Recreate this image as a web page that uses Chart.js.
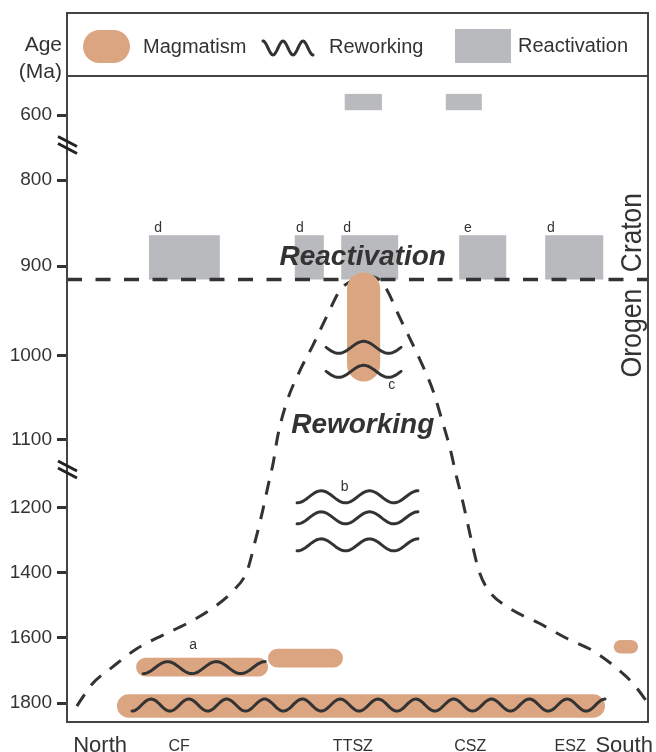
<!DOCTYPE html>
<html>
<head>
<meta charset="utf-8">
<script src="https://cdn.jsdelivr.net/npm/chart.js@4.4.1/dist/chart.umd.min.js"></script>
<style>
  html, body { margin: 0; background: #fff; }
  #wrap { width: 656px; height: 752px; }
</style>
</head>
<body>
<div id="wrap"><canvas id="c"></canvas></div>
<script>
/* ---------- Daten ---------- */

// y-Achse: gebrochene Altersachse (Ma)
const tickMa = [600, 800, 900, 1000, 1100, 1200, 1400, 1600, 1800];
const tickGap = [1, 1.32, 1.37, 1.29, 1.05, 1, 1, 1]; // relative Abstände zwischen den Ticks
const breakMa = [692, 1144];

// x-Achse: Profil Nord–Süd (0–100)
const siteNames = ["North", "CF", "TTSZ", "CSZ", "ESZ", "South"];
const sitePos = [5.7, 19.3, 49.2, 69.4, 86.6, 95.9];

// Reaktivierung (graue Felder)
const reactX1 = [47.8, 65.2, 14.1, 39.2, 47.2, 67.5, 82.3];
const reactX2 = [54.2, 71.4, 26.3, 44.2, 57.0, 75.6, 92.3];
const reactYoung = [535, 535, 864, 864, 864, 864, 864];
const reactOld = [585, 585, 915, 915, 915, 915, 915];

// Magmatismus (orange Kapseln)
const magX1 = [48.2, 11.9, 34.6, 8.6, 94.1];
const magX2 = [53.9, 34.6, 47.5, 92.6, 98.3];
const magYoung = [907, 1661, 1633, 1773, 1606];
const magOld = [1031, 1718, 1691, 1845, 1648];

// Überprägung (Wellenlinien): c, c, b, b, b, a, lang
const workX1 = [44.6, 44.6, 39.6, 39.6, 39.6, 13.1, 11.2];
const workX2 = [57.5, 57.5, 60.4, 60.4, 60.4, 34.1, 92.6];
const workMa = [991, 1019, 1184, 1231, 1314, 1691, 1806];

// Grenze Orogen / Kraton und Hüllkurve der Überprägung
const boundaryMa = 915;
const curveX = [1.7, 4.3, 7.7, 12.0, 16.5, 20.8, 25.1, 28.6, 31.0, 32.4, 33.6, 34.6, 35.5, 36.3,
  37.9, 40.1, 42.3, 44.8, 47.0, 49.1, 51.3, 53.9, 55.1, 57.3, 60.8, 63.0, 64.7, 65.9, 67.0,
  68.2, 69.5, 70.9, 72.6, 76.1, 81.2, 85.9, 90.5, 94.5, 97.4, 100];
const curveMa = [1809, 1742, 1691, 1633, 1591, 1554, 1508, 1455, 1394, 1302, 1215, 1168, 1134, 1095,
  1054, 1018, 989, 955, 927, 916, 911, 916, 927, 958, 1006, 1042, 1081, 1112, 1153,
  1194, 1292, 1394, 1455, 1508, 1554, 1600, 1639, 1691, 1739, 1800];

// Beschriftungen
const noteText = ["a", "b", "c", "d", "d", "d", "e", "d"];
const noteX = [21.7, 47.8, 55.9, 15.7, 40.1, 48.2, 69.0, 83.3];
const noteMa = [1633, 1175, 1040, 860, 860, 860, 860, 860];
const stageText = ["Reactivation", "Reworking"];
const stageX = [50.9, 50.9];
const stageMa = [899, 1093];
const zoneText = ["Orogen", "Craton"];
const zoneMa = [975, 861];

/* ---------- Stil ---------- */

const INK = "#333333", FRAME = "#444444", ORANGE = "#dca582", GREY = "#b9babe";
const FONT = '"Liberation Sans", Arial, sans-serif';
Chart.defaults.font.family = FONT;
Chart.defaults.color = INK;

const waveCycles = [1.5, 1.5, 2.5, 2.5, 2.5, 2.5, 12.5];
const wavePhase = [-0.25, -0.25, 0, 0, 0, 0, 0];
const zoneWidth = [89, 79];

/* ---------- gebrochene Altersskala ---------- */

const tickPos = tickGap.reduce((a, g) => (a.push(a[a.length - 1] + g), a), [0]);

function agePos(ma) {
  let i = 0;
  while (i < tickMa.length - 2 && ma > tickMa[i + 1]) i++;
  return tickPos[i] + (ma - tickMa[i]) / (tickMa[i + 1] - tickMa[i]) * tickGap[i];
}
function posAge(p) {
  let i = 0;
  while (i < tickPos.length - 2 && p > tickPos[i + 1]) i++;
  return tickMa[i] + (p - tickPos[i]) / tickGap[i] * (tickMa[i + 1] - tickMa[i]);
}

class AgeScale extends Chart.LinearScale {
  static id = "age";
  static defaults = {};
  getPixelForValue(v) {
    const a = agePos(this.min), b = agePos(this.max);
    return this.getPixelForDecimal((agePos(v) - a) / (b - a));
  }
  getValueForPixel(px) {
    const a = agePos(this.min), b = agePos(this.max);
    return posAge(a + this.getDecimalForPixel(px) * (b - a));
  }
}
Chart.register(AgeScale);

/* ---------- Zeichenhilfen ---------- */

function capsule(ctx, x, y, w, h) {
  const r = Math.min(w, h) / 2;
  ctx.beginPath();
  ctx.moveTo(x + r, y);
  ctx.arcTo(x + w, y, x + w, y + h, r);
  ctx.arcTo(x + w, y + h, x, y + h, r);
  ctx.arcTo(x, y + h, x, y, r);
  ctx.arcTo(x, y, x + w, y, r);
  ctx.closePath();
  ctx.fill();
}

function waveLine(ctx, x1, x2, cy, amp, cycles, phase) {
  const n = Math.max(30, Math.round(x2 - x1));
  ctx.beginPath();
  for (let i = 0; i <= n; i++) {
    const t = i / n;
    const y = cy + amp * Math.cos(2 * Math.PI * (phase + cycles * t));
    if (i) ctx.lineTo(x1 + t * (x2 - x1), y); else ctx.moveTo(x1, y);
  }
  ctx.stroke();
}

/* graue Felder unter den Linien */
const reactBoxes = {
  id: "reactBoxes",
  beforeDatasetsDraw(chart) {
    const { ctx, scales: { x, y } } = chart;
    ctx.save();
    ctx.fillStyle = GREY;
    reactX1.forEach((v, i) => {
      const l = x.getPixelForValue(v), r = x.getPixelForValue(reactX2[i]);
      const t = y.getPixelForValue(reactYoung[i]), b = y.getPixelForValue(reactOld[i]);
      ctx.fillRect(l, t, r - l, b - t);
    });
    ctx.restore();
  },
};

/* Kapseln, Wellen, Beschriftungen über den Linien */
const marks = {
  id: "marks",
  afterDatasetsDraw(chart) {
    const { ctx, chartArea, scales: { x, y } } = chart;
    ctx.save();
    ctx.fillStyle = ORANGE;
    magX1.forEach((v, i) => {
      const l = x.getPixelForValue(v), r = x.getPixelForValue(magX2[i]);
      const t = y.getPixelForValue(magYoung[i]), b = y.getPixelForValue(magOld[i]);
      capsule(ctx, l, t, r - l, b - t);
    });

    ctx.strokeStyle = INK;
    ctx.lineWidth = 3;
    ctx.lineCap = "round";
    workX1.forEach((v, i) => {
      waveLine(ctx, x.getPixelForValue(v), x.getPixelForValue(workX2[i]),
        y.getPixelForValue(workMa[i]), 6, waveCycles[i], wavePhase[i]);
    });

    ctx.fillStyle = INK;
    ctx.textAlign = "center";
    ctx.textBaseline = "alphabetic";
    ctx.font = `14px ${FONT}`;
    noteText.forEach((s, i) => ctx.fillText(s, x.getPixelForValue(noteX[i]), y.getPixelForValue(noteMa[i])));

    ctx.font = `italic bold 28px ${FONT}`;
    stageText.forEach((s, i) => ctx.fillText(s, x.getPixelForValue(stageX[i]), y.getPixelForValue(stageMa[i])));

    ctx.font = `30px ${FONT}`;
    zoneText.forEach((s, i) => {
      ctx.save();
      ctx.translate(chartArea.right - 7, y.getPixelForValue(zoneMa[i]));
      ctx.rotate(-Math.PI / 2);
      ctx.fillText(s, 0, 0, zoneWidth[i]);
      ctx.restore();
    });
    ctx.restore();
  },
};

/* Rahmen, Legendenzeile, Achsenbrüche */
const frame = {
  id: "frame",
  afterDraw(chart) {
    const { ctx, chartArea: { left, right, top, bottom }, scales: { y } } = chart;
    ctx.save();
    ctx.strokeStyle = FRAME;
    ctx.lineWidth = 2;
    ctx.strokeRect(left, top - 63, right - left, bottom - top + 63);
    ctx.beginPath();
    ctx.moveTo(left, top);
    ctx.lineTo(right, top);
    ctx.stroke();

    // Legende
    ctx.fillStyle = ORANGE;
    capsule(ctx, 83, 30, 47, 33);
    ctx.fillStyle = GREY;
    ctx.fillRect(455, 29, 56, 34);
    ctx.strokeStyle = INK;
    ctx.lineWidth = 3;
    ctx.lineCap = "round";
    waveLine(ctx, 263, 313, 48, 7, 2.5, 0.5);

    ctx.fillStyle = INK;
    ctx.font = `20px ${FONT}`;
    ctx.textAlign = "left";
    ctx.fillText("Magmatism", 143, 53);
    ctx.fillText("Reworking", 329, 53);
    ctx.fillText("Reactivation", 518, 52);

    ctx.font = `21px ${FONT}`;
    ctx.textAlign = "right";
    ctx.fillText("Age", 62, 51);
    ctx.fillText("(Ma)", 62, 78);

    // Achsenbrüche
    ctx.strokeStyle = "#222";
    ctx.lineCap = "butt";
    breakMa.forEach((ma) => {
      const cy = y.getPixelForValue(ma);
      [-3.5, 3.5].forEach((d) => {
        ctx.beginPath();
        ctx.moveTo(left - 9, cy + d - 5);
        ctx.lineTo(left + 10, cy + d + 5);
        ctx.stroke();
      });
    });
    ctx.restore();
  },
};

/* ---------- Chart ---------- */

const bigSite = (i) => i === 0 || i === siteNames.length - 1;

new Chart(document.getElementById("c"), {
  type: "line",
  data: {
    datasets: [
      {
        label: "Orogen/Craton",
        data: [{ x: 0, y: boundaryMa }, { x: 100, y: boundaryMa }],
        borderColor: INK,
        borderWidth: 3.5,
        borderDash: [15, 13.5],
        pointRadius: 0,
      },
      {
        label: "Reworking front",
        data: curveX.map((v, i) => ({ x: v, y: curveMa[i] })),
        borderColor: INK,
        borderWidth: 3,
        borderDash: [14, 11],
        cubicInterpolationMode: "monotone",
        pointRadius: 0,
      },
    ],
  },
  options: {
    responsive: true,
    maintainAspectRatio: false,
    animation: false,
    events: [],
    layout: { padding: { top: 76, right: 8, bottom: 0, left: 0 } },
    plugins: { legend: { display: false }, tooltip: { enabled: false } },
    scales: {
      x: {
        type: "linear",
        min: 0,
        max: 100,
        bounds: "data",
        grid: { display: false },
        border: { display: true, color: FRAME, width: 2 },
        afterBuildTicks: (s) => { s.ticks = sitePos.map((v) => ({ value: v })); },
        afterFit: (s) => { s.height = 30; s.paddingLeft = 0; s.paddingRight = 0; },
        ticks: {
          autoSkip: false,
          maxRotation: 0,
          padding: 3,
          color: INK,
          font: (c) => bigSite(c.index) ? { size: 22, lineHeight: 1.2 } : { size: 16, lineHeight: 1.69 },
          callback: (v, i) => siteNames[i],
        },
      },
      y: {
        type: "age",
        reverse: true,
        min: 480,
        max: 1858,
        bounds: "data",
        grid: { drawOnChartArea: false, tickLength: 10, tickWidth: 3, tickColor: INK },
        border: { display: true, color: FRAME, width: 2 },
        afterBuildTicks: (s) => { s.ticks = tickMa.map((v) => ({ value: v })); },
        afterFit: (s) => { s.width = 67; s.paddingTop = 0; s.paddingBottom = 0; },
        ticks: { padding: 5, color: INK, font: { size: 19 }, callback: (v) => String(v) },
      },
    },
  },
  plugins: [reactBoxes, marks, frame],
});
</script>
</body>
</html>
